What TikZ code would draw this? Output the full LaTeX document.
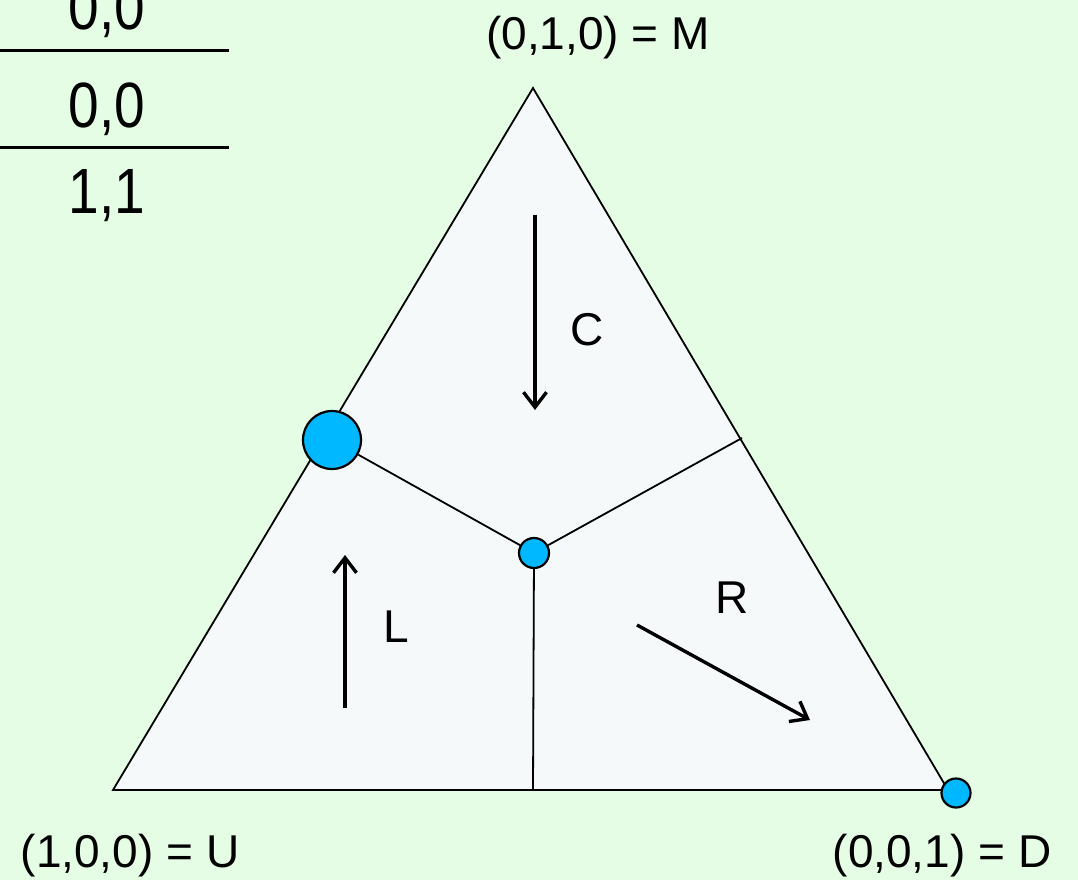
\documentclass[tikz,border=0pt]{standalone}
\usepackage{fontspec}
\setmainfont{Liberation Sans}
\usetikzlibrary{arrows.meta}
\definecolor{bgGreen}{RGB}{229,253,229}
\definecolor{triFill}{RGB}{245,249,250}
\definecolor{dotBlue}{RGB}{0,184,255}

\begin{document}
\begin{tikzpicture}[x=1pt,y=-1pt,
    dot/.style={circle,draw,line width=2.2pt,fill=dotBlue,inner sep=0pt},
    flow/.style={line width=3.4pt,-{Straight Barb[length=15pt,width=23pt]}},
    lbl/.style={anchor=base,inner sep=0pt,font=\fontsize{46}{50}\selectfont},
    pay/.style={anchor=base,inner sep=0pt,font=\fontsize{64}{70}\selectfont}]
  \fill[bgGreen] (0,0) rectangle (1078,880);
  \useasboundingbox (0,0) rectangle (1078,880);

  % payoff table
  \draw[line width=3pt] (0,51) -- (229,51);
  \draw[line width=3pt] (0,147) -- (229,147);
  \node[pay] (pA) at (107,30) {\scalebox{0.86}[1]{0,0}};
  \node[pay] (pB) at (107,128) {\scalebox{0.86}[1]{0,0}};
  \node[pay] (pC) at (107,213) {\scalebox{0.86}[1]{1,1}};

  % simplex
  \coordinate (U) at (113,790);
  \coordinate (M) at (533,88);
  \coordinate (D) at (948,790);
  \draw[line width=1.8pt,fill=triFill] (U) -- (M) -- (D) -- cycle;

  \coordinate (E) at (742,438);
  \coordinate (B) at (533,790);
  \node[dot,minimum size=58pt] (big) at (332,440) {};
  \node[dot,minimum size=30pt] (mid) at (534,553) {};
  \node[dot,minimum size=29pt] (corner) at (956,793) {};
  \draw[line width=1.8pt] (big) -- (mid) -- (E);
  \draw[line width=1.8pt] (mid) -- (B);

  % best responses
  \draw[flow] (535,215) -- (535,410);
  \draw[flow] (345,708) -- (345,555);
  \draw[flow] (637,625) -- (810,720);
  \node[lbl] (lC) at (587,345) {C};
  \node[lbl] (lL) at (396,642) {L};
  \node[lbl] (lR) at (732,613) {R};

  % vertex labels
  \node[lbl] (lM) at (598,50) {(0,1,0) = M};
  \node[lbl] (lU) at (130,867) {(1,0,0) = U};
  \node[lbl] (lD) at (942,867) {(0,0,1) = D};
\end{tikzpicture}
\end{document}
